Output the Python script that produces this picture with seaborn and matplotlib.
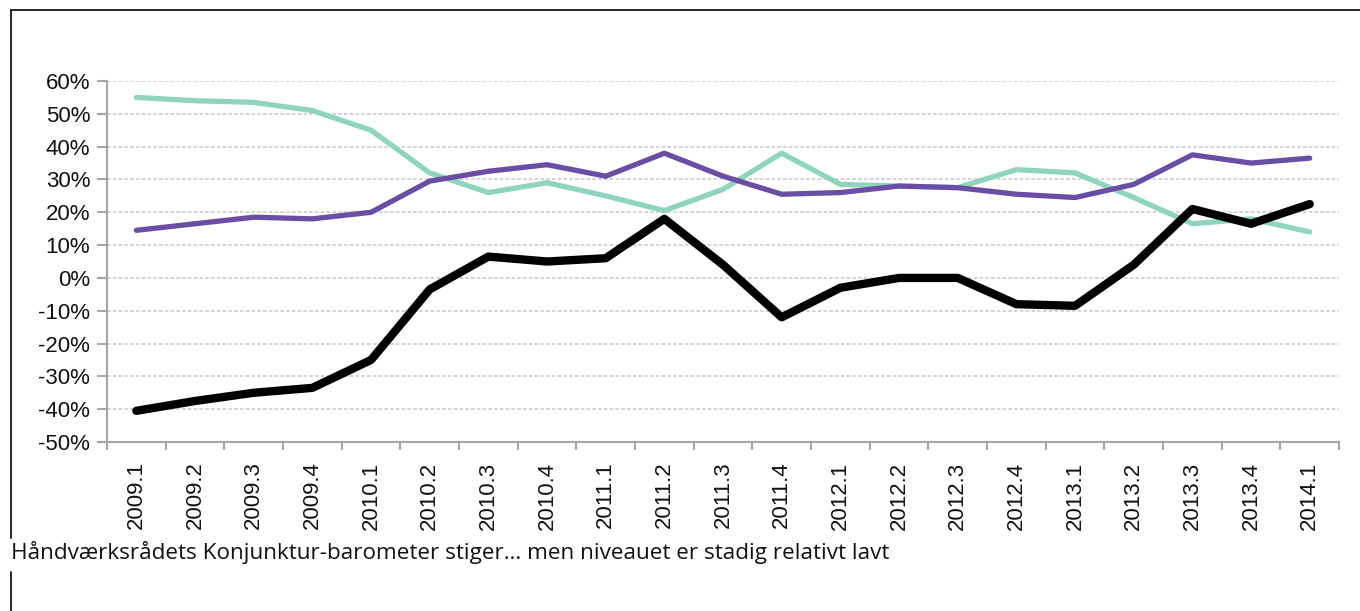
import numpy as np
import pandas as pd
import matplotlib
matplotlib.use('Agg')
import matplotlib.pyplot as plt
from matplotlib.lines import Line2D
from matplotlib.ticker import FuncFormatter, MultipleLocator, FixedLocator
import seaborn as sns

# Data (in %)
quarters = ['2009.1', '2009.2', '2009.3', '2009.4', '2010.1', '2010.2', '2010.3',
            '2010.4', '2011.1', '2011.2', '2011.3', '2011.4', '2012.1', '2012.2',
            '2012.3', '2012.4', '2013.1', '2013.2', '2013.3', '2013.4', '2014.1']
teal_vals = [55, 54, 53.5, 51, 45, 32, 26, 29, 25, 20.5, 27, 38, 28.5, 28, 27.5,
             33, 32, 24.5, 16.5, 18, 14]
purple_vals = [14.5, 16.5, 18.5, 18, 20, 29.5, 32.5, 34.5, 31, 38, 31, 25.5, 26,
               28, 27.5, 25.5, 24.5, 28.5, 37.5, 35, 36.5]
black_vals = [-40.5, -37.5, -35, -33.5, -25, -3.5, 6.5, 5, 6, 18, 4, -12, -3, 0,
              0, -8, -8.5, 4, 21, 16.5, 22.5]
caption = 'Håndværksrådets Konjunktur-barometer stiger… men niveauet er stadig relativt lavt'

sns.set_style('white')
plt.rcParams['font.family'] = ['Liberation Sans', 'DejaVu Sans']

fig = plt.figure(figsize=(13.6, 6.11), dpi=100)
ax = fig.add_axes([0.0787, 0.2766, 0.9059, 0.5908])

x = np.arange(len(quarters))
series = [
    (teal_vals, '#8fd4bc', 3.8),
    (purple_vals, '#6a4ea4', 3.8),
    (black_vals, '#000000', 6.0),
]
for vals, col, lw in series:
    sns.lineplot(x=x, y=vals, ax=ax, color=col, linewidth=lw,
                 solid_joinstyle='round', solid_capstyle='round')

ax.set_xlim(-0.5, len(quarters) - 0.5)
ax.set_ylim(-50, 60)
ax.yaxis.set_major_locator(MultipleLocator(10))
ax.yaxis.set_major_formatter(FuncFormatter(lambda v, p: f'{v:.0f}%'))
ax.yaxis.grid(True, color='#d0d0d0', linestyle=(0, (2.0, 1.2)), linewidth=1.3)
ax.xaxis.grid(False)

ax.set_xticks(x)
ax.set_xticklabels(quarters, rotation=90)
ax.xaxis.set_minor_locator(FixedLocator(np.arange(-0.5, len(quarters), 1)))
ax.tick_params(axis='x', which='major', length=0, pad=14, labelsize=16,
               labelcolor='#111111')
ax.tick_params(axis='x', which='minor', length=6, width=1.5, color='#a6a6a6',
               direction='out', bottom=True)
ax.tick_params(axis='y', length=7, width=1.5, color='#a6a6a6', direction='out',
               left=True, labelsize=16, pad=5, labelcolor='#111111')

for side in ['top', 'right']:
    ax.spines[side].set_visible(False)
for side in ['left', 'bottom']:
    ax.spines[side].set_color('#a6a6a6')
    ax.spines[side].set_linewidth(1.5)

# frame lines around the chart
fig.add_artist(Line2D([11 / 1360, 1.0], [1 - 10 / 611, 1 - 10 / 611],
                      color='black', linewidth=1.2, transform=fig.transFigure))
fig.add_artist(Line2D([11 / 1360, 11 / 1360], [1 - 10 / 611, 1 - 538 / 611],
                      color='black', linewidth=1.2, transform=fig.transFigure))
fig.add_artist(Line2D([11 / 1360, 11 / 1360], [1 - 572 / 611, 0],
                      color='black', linewidth=1.2, transform=fig.transFigure))

fig.text(11 / 1360, 1 - 553 / 611, caption, fontsize=16.2, va='center', ha='left',
         family=['Open Sans', 'DejaVu Sans'], color='#111111')

fig.savefig('out.png', dpi=100)
